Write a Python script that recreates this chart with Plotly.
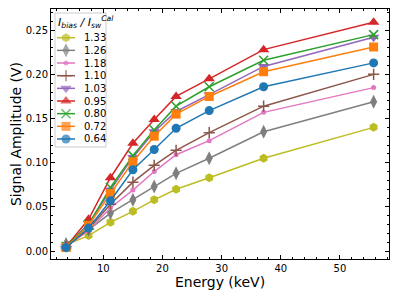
import plotly.graph_objects as go

energy = [3.7, 7.5, 11.2, 15.0, 18.6, 22.3, 27.9, 37.1, 55.7]

labels = ["1.33", "1.26", "1.18", "1.10", "1.03", "0.95", "0.80", "0.72", "0.64"]
colors = ["#bcbd22", "#7f7f7f", "#e377c2", "#8c564b", "#9467bd", "#d62728", "#2ca02c", "#ff7f0e", "#1f77b4"]
symbols = ["hexagon", "diamond-tall", "circle", "cross-thin", "triangle-down", "triangle-up", "x-thin", "square", "circle"]
sizes = [9, 10, 5, 8, 10, 10, 9, 9, 9]

amp_133 = [0.007, 0.0175, 0.0325, 0.045, 0.058, 0.070, 0.083, 0.105, 0.140]
amp_126 = [0.008, 0.024, 0.043, 0.058, 0.073, 0.088, 0.105, 0.135, 0.169]
amp_118 = [0.005, 0.023, 0.049, 0.069, 0.090, 0.109, 0.125, 0.157, 0.185]
amp_110 = [0.005, 0.025, 0.053, 0.078, 0.097, 0.114, 0.134, 0.164, 0.200]
amp_103 = [0.005, 0.031, 0.069, 0.106, 0.135, 0.158, 0.177, 0.209, 0.242]
amp_095 = [0.005, 0.036, 0.083, 0.122, 0.149, 0.175, 0.195, 0.228, 0.259]
amp_080 = [0.005, 0.030, 0.072, 0.108, 0.137, 0.164, 0.186, 0.216, 0.245]
amp_072 = [0.004, 0.029, 0.065, 0.101, 0.130, 0.155, 0.175, 0.203, 0.231]
amp_064 = [0.004, 0.026, 0.057, 0.092, 0.115, 0.139, 0.159, 0.186, 0.213]

series = [amp_133, amp_126, amp_118, amp_110, amp_103, amp_095, amp_080, amp_072, amp_064]

font = "DejaVu Sans, sans-serif"

# figure sized to fit the window after the page's default 8px body margin
W, H = 391, 291
ML, MR, MT, MB = 43, 10, 1, 40
PW, PH = W - ML - MR, H - MT - MB

fig = go.Figure()
for lab, col, sym, sz, ys in zip(labels, colors, symbols, sizes, series):
    thin = sym.endswith("-thin")
    fig.add_trace(go.Scatter(
        x=energy, y=ys, name=lab, mode="lines+markers", showlegend=False,
        line=dict(color=col, width=1.5),
        marker=dict(symbol=sym, size=sz, color=col,
                    line=dict(color=col, width=1.5 if thin else 0)),
    ))

# custom compact legend drawn on a pixel-scaled overlay axis (x2/y2)
leg_left, leg_right, leg_top, leg_bottom = 4, 55, 4, 138
row0, row_step = 28.7, 12.66
key_x0, key_x1, text_x = 6, 24, 31
fig.add_shape(type="rect", xref="x2", yref="y2",
              x0=leg_left, x1=leg_right, y0=leg_top, y1=leg_bottom,
              line=dict(color="#cccccc", width=1), fillcolor="white",
              layer="below")
for i, (lab, col, sym, sz) in enumerate(zip(labels, colors, symbols, sizes)):
    thin = sym.endswith("-thin")
    yy = row0 + i * row_step
    fig.add_trace(go.Scatter(
        x=[key_x0, (key_x0 + key_x1) / 2, key_x1], y=[yy, yy, yy],
        xaxis="x2", yaxis="y2", mode="lines+markers", showlegend=False,
        hoverinfo="skip",
        line=dict(color=col, width=1.5),
        marker=dict(symbol=sym, size=[0, sz, 0], color=col,
                    line=dict(color=col, width=1.5 if thin else 0)),
    ))
    fig.add_annotation(x=text_x, y=yy, xref="x2", yref="y2", text=lab,
                       showarrow=False, xanchor="left", yanchor="middle",
                       font=dict(family=font, size=10, color="black"))
fig.add_annotation(x=leg_left + 1, y=13, xref="x2", yref="y2",
                   text="<i>I<sub>bias</sub> / I<sub>sw</sub><sup>Cal</sup></i>",
                   showarrow=False, xanchor="left", yanchor="middle",
                   font=dict(family=font, size=11, color="black"))

axis_common = dict(
    showline=True, mirror="ticks", linecolor="black", linewidth=1,
    ticks="inside", ticklen=4, tickcolor="black", tickwidth=1,
    showgrid=False, zeroline=False, automargin=False,
    tickfont=dict(family=font, size=10, color="black"),
)
fig.update_layout(
    width=W, height=H,
    margin=dict(l=ML, r=MR, t=MT, b=MB),
    paper_bgcolor="white", plot_bgcolor="white",
    font=dict(family=font, color="black"),
    xaxis=dict(range=[1.15, 58.3], tickvals=[10, 20, 30, 40, 50],
               minor=dict(ticks="inside", ticklen=2, dtick=2, tickcolor="black"),
               title=dict(text="Energy (keV)", font=dict(family=font, size=14), standoff=3),
               **axis_common),
    yaxis=dict(range=[-0.009, 0.274], tickvals=[0, 0.05, 0.1, 0.15, 0.2, 0.25],
               tickformat=".2f",
               minor=dict(ticks="inside", ticklen=2, dtick=0.01, tickcolor="black"),
               title=dict(text="Signal Amplitude (V)", font=dict(family=font, size=14), standoff=4),
               **axis_common),
    xaxis2=dict(domain=[0, 1], range=[0, PW], visible=False, fixedrange=True,
                anchor="y2", overlaying="x"),
    yaxis2=dict(domain=[0, 1], range=[PH, 0], visible=False, fixedrange=True,
                anchor="x2", overlaying="y"),
    showlegend=False,
)

fig.write_html("out.html")
